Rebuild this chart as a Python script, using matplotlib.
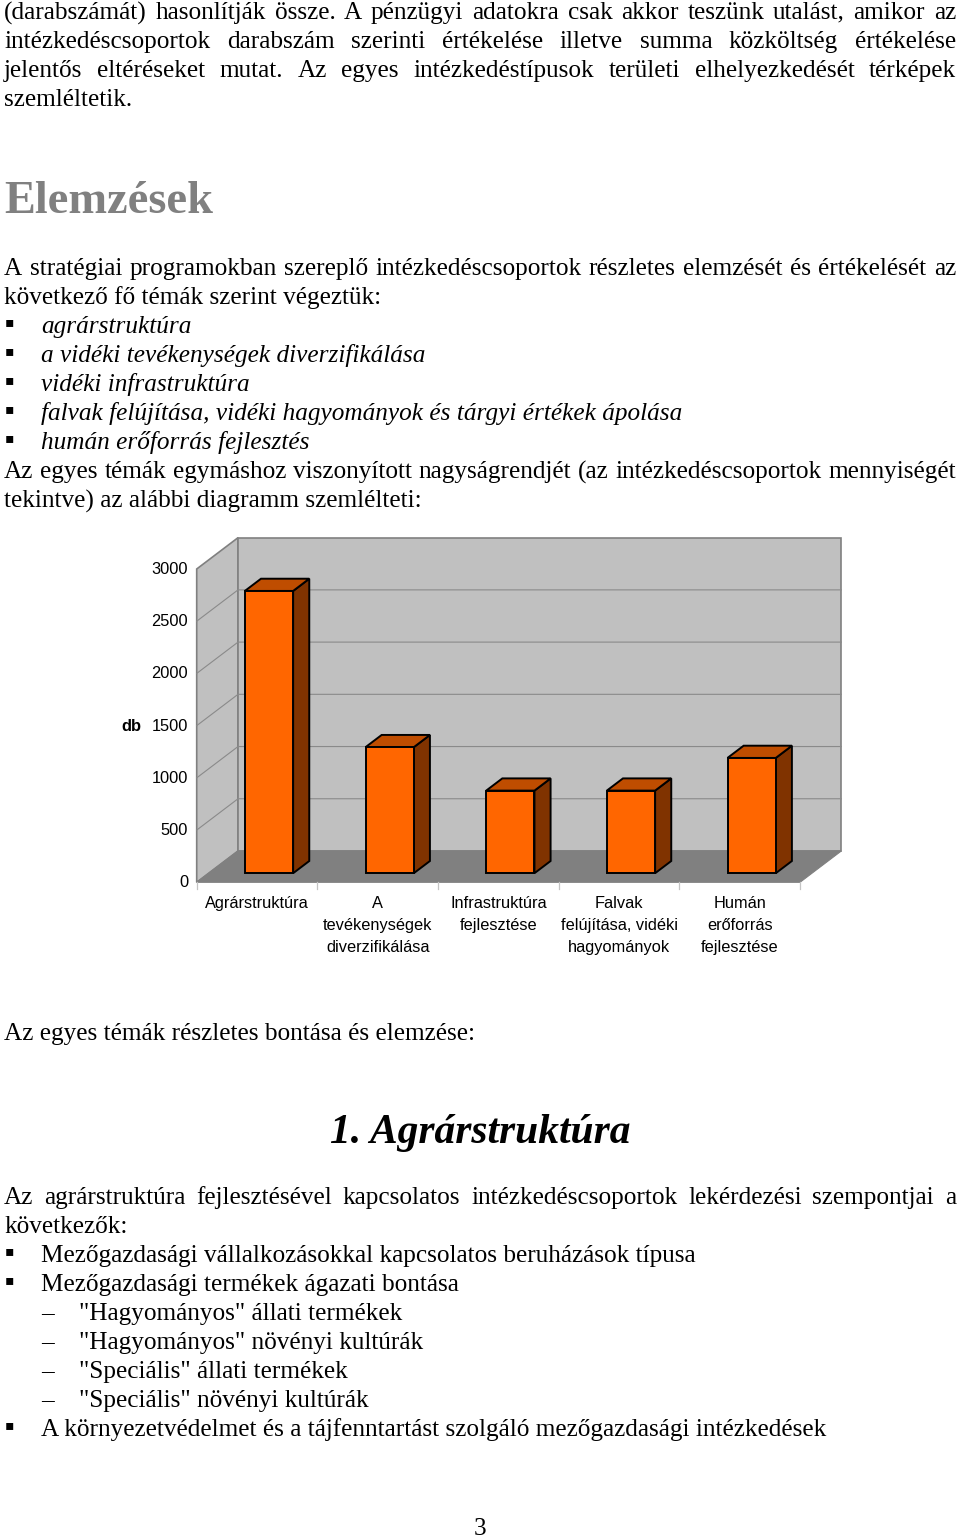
import matplotlib
matplotlib.use('Agg')
import matplotlib.pyplot as plt

# chart data
categories = ['Agrárstruktúra', 'A\ntevékenységek\ndiverzifikálása', 'Infrastruktúra\nfejlesztése',
              'Falvak\nfelújítása, vidéki\nhagyományok', 'Humán\nerőforrás\nfejlesztése']
values = [2703, 1207, 791, 791, 1104]
y_ticks = [0, 500, 1000, 1500, 2000, 2500, 3000]
y_title = 'db'

# page text: (text, baseline y, x, justified)
top_lines = [
    ('(darabszámát) hasonlítják össze. A pénzügyi adatokra csak akkor teszünk utalást, amikor az', 19, 4, True),
    ('intézkedéscsoportok darabszám szerinti értékelése illetve summa közköltség értékelése', 48, 4, True),
    ('jelentős eltéréseket mutat. Az egyes intézkedéstípusok területi elhelyezkedését térképek', 77, 4, True),
    ('szemléltetik.', 106, 4, False),
    ('A stratégiai programokban szereplő intézkedéscsoportok részletes elemzését és értékelését az', 275, 4, True),
    ('következő fő témák szerint végeztük:', 304, 4, False),
    ('Az egyes témák egymáshoz viszonyított nagyságrendjét (az intézkedéscsoportok mennyiségét', 478, 4, True),
    ('tekintve) az alábbi diagramm szemlélteti:', 508, 4, False),
    ('Az egyes témák részletes bontása és elemzése:', 1040, 4, False),
    ('Az agrárstruktúra fejlesztésével kapcsolatos intézkedéscsoportok lekérdezési szempontjai a', 1204, 4, True),
    ('következők:', 1233, 4, False),
]
italic_items = [
    ('agrárstruktúra', 333),
    ('a vidéki tevékenységek diverzifikálása', 362),
    ('vidéki infrastruktúra', 391),
    ('falvak felújítása, vidéki hagyományok és tárgyi értékek ápolása', 420),
    ('humán erőforrás fejlesztés', 449),
]
bullet_items = [
    ('Mezőgazdasági vállalkozásokkal kapcsolatos beruházások típusa', 1262),
    ('Mezőgazdasági termékek ágazati bontása', 1291),
    ('A környezetvédelmet és a tájfenntartást szolgáló mezőgazdasági intézkedések', 1436),
]
dash_items = [
    ('"Hagyományos" állati termékek', 1320),
    ('"Hagyományos" növényi kultúrák', 1349),
    ('"Speciális" állati termékek', 1378),
    ('"Speciális" növényi kultúrák', 1407),
]

W, H = 960, 1537
SERIF = 'Liberation Serif'
SANS = 'Liberation Sans'
BODY = 25.2 * 0.72
LABEL = 16.4 * 0.72

fig = plt.figure(figsize=(W / 100, H / 100), dpi=100, facecolor='white')

# page layer in pixel coordinates
page = fig.add_axes([0, 0, 1, 1])
page.set_xlim(0, W)
page.set_ylim(H, 0)
page.axis('off')


def body(x, y, line, **kw):
    kw.setdefault('fontsize', BODY)
    return page.text(x, y, line, family=SERIF, va='baseline', **kw)


def justified(line, y, x0, x1):
    words = line.split(' ')
    items = [body(x0, y, w) for w in words]
    rend = fig.canvas.get_renderer()
    widths = [t.get_window_extent(rend).width for t in items]
    gap = (x1 - x0 - sum(widths)) / (len(words) - 1)
    x = x0
    for t, w in zip(items, widths):
        t.set_x(x)
        # Agg places words with brackets or commas one pixel off the row
        word = t.get_text()
        if '(' in word:
            t.set_y(y + 1)
        elif ',' in word:
            t.set_y(y - 1)
        x += w + gap


def bullet(y):
    page.text(4.4, y - 6.6, '▪', family='DejaVu Sans', fontsize=14 * 0.72, va='baseline', color='black')


for line, y, x, just in top_lines:
    if just:
        justified(line, y, x, 956)
    else:
        body(x, y, line)

for line, y in italic_items:
    bullet(y)
    body(41, y, line, style='italic')
for line, y in bullet_items:
    bullet(y)
    body(41, y, line)
for line, y in dash_items:
    body(41, y - 1, '–')
    body(79, y, line)

body(4, 213, 'Elemzések', weight='bold', color='#808080', fontsize=46.4 * 0.72)
body(480, 1143, '1. Agrárstruktúra', weight='bold', style='italic', fontsize=41.5 * 0.72, ha='center')
body(480, 1534.6, '3', ha='center')

# chart axes: the front plane of the 3D box
left, right, bottom, top = 196.7, 800.0, 882.3, 569.0
ax = fig.add_axes([left / W, 1 - bottom / H, (right - left) / W, (bottom - top) / H])
ax.set_xlim(0, len(categories))
ax.set_ylim(0, 3000)
ax.axis('off')
ax.patch.set_visible(False)

DX = 0.3425   # shift of the depth direction, categories
DY = 300      # same, in value units
n = len(categories)
ymax = y_ticks[-1]
WALL = '#c0c0c0'
EDGE = '#808080'


def shifted(x, y, d):
    return x + d * DX, y + d * DY


def face(points, **kw):
    xs = [shifted(*p)[0] for p in points]
    ys = [shifted(*p)[1] for p in points]
    ax.fill(xs, ys, clip_on=False, **kw)


# walls and floor
face([(0, 0, 0), (0, 0, 1), (0, ymax, 1), (0, ymax, 0)], facecolor=WALL, edgecolor=EDGE, linewidth=1.2)
face([(0, 0, 1), (n, 0, 1), (n, ymax, 1), (0, ymax, 1)], facecolor=WALL, edgecolor=EDGE, linewidth=1.2)
face([(0, 0, 0), (n, 0, 0), (n, 0, 1), (0, 0, 1)], facecolor=EDGE, edgecolor=EDGE, linewidth=0.8)

# grid lines along left wall and back wall
for v in y_ticks[1:-1]:
    x0, y0 = shifted(0, v, 0)
    x1, y1 = shifted(0, v, 1)
    x2, y2 = shifted(n, v, 1)
    ax.plot([x0, x1, x2], [y0, y1, y2], color='#8a8a8a', linewidth=0.8, clip_on=False)

# category separators below the floor
for i in range(n + 1):
    ax.plot([i, i], [0, -60], color='#c4c4c4', linewidth=0.9, clip_on=False)

# bars
BAR_W = 0.4
D_FRONT = 0.29
D_BACK = 0.68
for i, v in enumerate(values):
    xl = i + 0.5 - BAR_W / 2
    xr = xl + BAR_W
    base = D_FRONT * DY
    ax.bar(xl + D_FRONT * DX, v, width=BAR_W, bottom=base, align='edge', color='#ff6600',
           edgecolor='black', linewidth=1.4, clip_on=False, zorder=4)
    side = [(xr, 0, D_FRONT), (xr, 0, D_BACK), (xr, v, D_BACK), (xr, v, D_FRONT)]
    roof = [(xl, v, D_FRONT), (xr, v, D_FRONT), (xr, v, D_BACK), (xl, v, D_BACK)]
    face(side, facecolor='#803300', edgecolor='black', linewidth=1.4, zorder=3)
    face(roof, facecolor='#bf4d00', edgecolor='black', linewidth=1.4, zorder=3)

# labels
for v in y_ticks:
    ax.annotate(str(v), xy=(0, v), xytext=(-8.5, -0.4), textcoords='offset pixels', ha='right', va='center',
                family=SANS, fontsize=LABEL, annotation_clip=False)
ax.annotate(y_title, xy=(0, 1500), xytext=(-55, -1), textcoords='offset pixels', ha='right', va='center',
            family=SANS, weight='bold', fontsize=LABEL, annotation_clip=False)
for i, name in enumerate(categories):
    ax.annotate(name, xy=(i + 0.5, 0), xytext=(0, -14), textcoords='offset pixels', ha='center', va='top',
                family=SANS, fontsize=LABEL, linespacing=1.56, annotation_clip=False)

fig.savefig('out.png', dpi=100, facecolor='white')
